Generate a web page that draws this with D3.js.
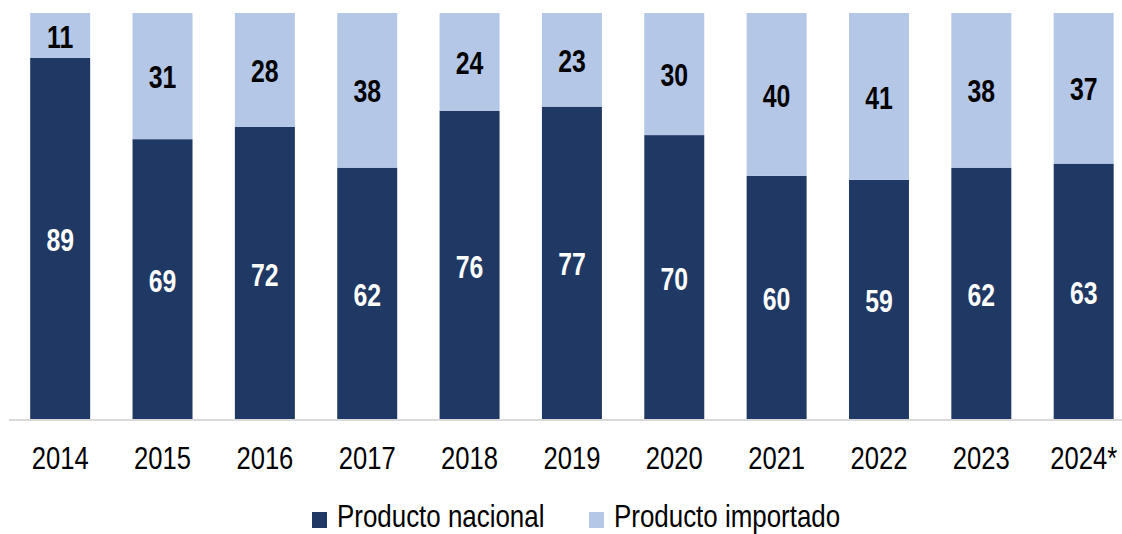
<!DOCTYPE html>
<html>
<head>
<meta charset="utf-8">
<script src="https://cdn.jsdelivr.net/npm/d3@7"></script>
<style>
  body { margin: 0; background: #fff; }
  svg text { font-family: "Liberation Sans", Arial, sans-serif; }
</style>
</head>
<body>
<div id="chart"></div>
<script>
// data
var years = ["2014", "2015", "2016", "2017", "2018", "2019", "2020", "2021", "2022", "2023", "2024*"];
var nacional = [89, 69, 72, 62, 76, 77, 70, 60, 59, 62, 63];
var importado = [11, 31, 28, 38, 24, 23, 30, 40, 41, 38, 37];
var seriesNames = ["Producto nacional", "Producto importado"];
var colors = ["#203864", "#b4c7e7"];

var W = 1122, H = 534;
var narrow = "scale(0.8,1)"; // squeeze to look like Arial Narrow

var svg = d3.select("#chart").append("svg")
    .attr("width", W)
    .attr("height", H);

// scales
var x = d3.scaleBand().domain(years).range([9, 9 + 11 * 102.35]).paddingInner(0.414).paddingOuter(0.207);
var y = d3.scaleLinear().domain([0, 100]).range([420, 13]);

var rows = years.map(function (yr, i) {
    return {year: yr, nacional: nacional[i], importado: importado[i]};
});
var stack = d3.stack().keys(["nacional", "importado"])(rows);

// bars
var layers = svg.selectAll(".layer")
    .data(stack)
    .enter().append("g")
    .attr("class", "layer")
    .attr("fill", function (d, i) { return colors[i]; });

layers.selectAll("rect")
    .data(function (d) { return d; })
    .enter().append("rect")
    .attr("x", function (d) { return x(d.data.year); })
    .attr("width", x.bandwidth())
    .attr("y", function (d) { return y(d[1]); })
    .attr("height", function (d) { return y(d[0]) - y(d[1]); });

// value labels
layers.each(function (layer) {
    var txtColor = layer.key == "nacional" ? "#ffffff" : "#000000";
    d3.select(this).selectAll("g.lbl")
        .data(layer)
        .enter().append("g")
        .attr("class", "lbl")
        .attr("transform", function (d) {
            return "translate(" + (x(d.data.year) + x.bandwidth() / 2) + "," + ((y(d[0]) + y(d[1])) / 2 + 1) + ")";
        })
        .append("text")
        .attr("transform", narrow)
        .attr("dy", "0.36em")
        .attr("text-anchor", "middle")
        .style("font-size", "31px")
        .style("font-weight", "bold")
        .attr("fill", txtColor)
        .text(function (d) { return d[1] - d[0]; });
});

// x axis
var xAxis = svg.append("g")
    .attr("transform", "translate(0,420)")
    .call(d3.axisBottom(x).tickSize(0).tickPadding(26));
xAxis.select(".domain").attr("stroke", "#d9d9d9").attr("stroke-width", 2)
    .attr("d", "M9,0H1122");
xAxis.selectAll("text")
    .attr("transform", narrow)
    .style("font-size", "32px")
    .attr("fill", "#000");

// legend
var legend = svg.append("g").attr("class", "legend");
var legendX = [312, 589];
seriesNames.forEach(function (name, i) {
    var item = legend.append("g").attr("transform", "translate(" + legendX[i] + ",527)");
    item.append("rect")
        .attr("x", 0).attr("y", -15)
        .attr("width", 15).attr("height", 16)
        .attr("fill", colors[i]);
    item.append("g")
        .attr("transform", "translate(25,0)")
        .append("text")
        .attr("transform", "scale(0.81,1)")
        .style("font-size", "32px")
        .attr("fill", "#000")
        .text(name);
});
</script>
</body>
</html>
